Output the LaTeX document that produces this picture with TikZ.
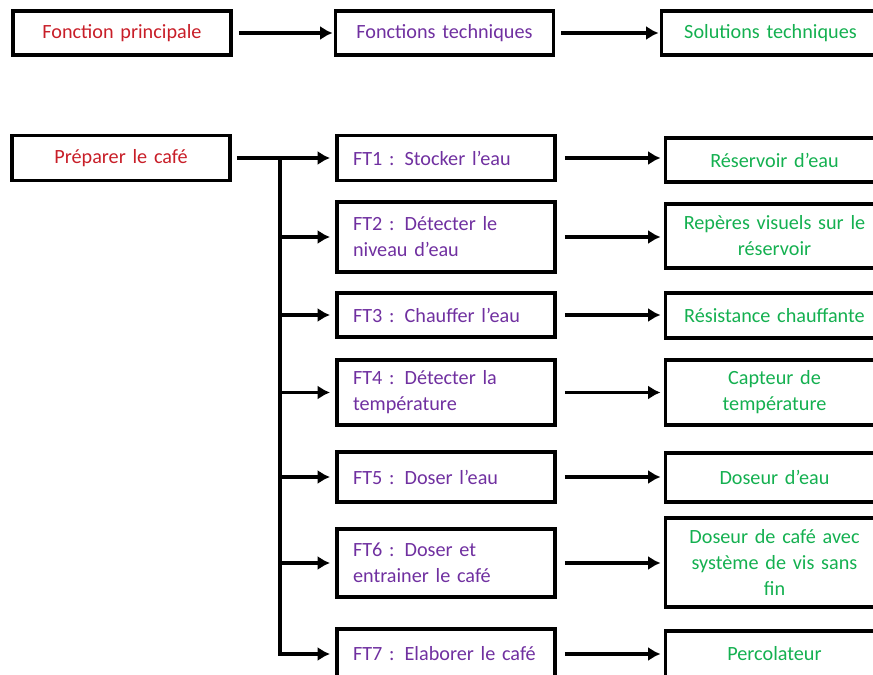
\documentclass[tikz,border=0pt]{standalone}
\usepackage{fontspec}
\setmainfont{Carlito}[WordSpace=0.75]
\usetikzlibrary{arrows.meta}
\definecolor{fprouge}{RGB}{200,30,40}
\definecolor{ftviolet}{RGB}{112,48,160}
\definecolor{stvert}{RGB}{20,176,80}
\tikzset{
	boite/.style={draw, line width=2.2pt, minimum width=4.36cm, text width=3.72cm, inner sep=0pt, outer sep=0pt, font=\fontsize{11.5}{14.8}\selectfont},
	fleche/.style={line width=2pt, -{Latex[length=7pt,width=8pt]}},
}
\begin{document}
\begin{tikzpicture}[x=0.02cm,y=-0.02cm]
			\useasboundingbox (0,0) rectangle (873,675);
			\clip (0,0) rectangle (873,675);
			% titres
			\node[boite, align=center, minimum height=0.88cm, text=fprouge] (fp) at (122,33) {Fonction principale};
			\node[boite, align=center, minimum height=0.88cm, text=ftviolet] (ftt) at (444.5,33) {Fonctions techniques};
			\node[boite, align=center, minimum height=0.88cm, text=stvert] (stt) at (770.5,33) {Solutions techniques};
			\draw[fleche, shorten <=0.16cm, shorten >=0.06cm] (fp.east) -- (ftt.west);
			\draw[fleche, shorten <=0.16cm, shorten >=0.06cm] (ftt.east) -- (stt.west);
			% fonction principale
			\node[boite, align=center, minimum height=0.9cm, text=fprouge] (pc) at (121,158) {Préparer le café};
			% fonctions techniques
			\node[boite, align=left, minimum height=0.9cm, text=ftviolet] (ft1) at (446,158) {FT1 : Stocker l’eau};
			\node[boite, align=left, minimum height=1.4cm, text=ftviolet] (ft2) at (446,237) {FT2 : Détecter le\\niveau d’eau};
			\node[boite, align=left, minimum height=0.88cm, text=ftviolet] (ft3) at (446,315) {FT3 : Chauffer l’eau};
			\node[boite, align=left, minimum height=1.3cm, text=ftviolet] (ft4) at (446,392.5) {FT4 : Détecter la\\température};
			\node[boite, align=left, minimum height=1.0cm, text=ftviolet] (ft5) at (446,477) {FT5 : Doser l’eau};
			\node[boite, align=left, minimum height=1.36cm, text=ftviolet] (ft6) at (446,563) {FT6 : Doser et\\entrainer le café};
			\node[boite, align=left, minimum height=1.0cm, text=ftviolet] (ft7) at (446,654) {FT7 : Elaborer le café};
			% solutions techniques
			\node[boite, align=center, minimum height=0.88cm, text=stvert] (st1) at (774.5,160) {Réservoir d’eau};
			\node[boite, align=center, minimum height=1.28cm, text=stvert] (st2) at (774.5,236) {Repères visuels sur le\\réservoir};
			\node[boite, align=center, minimum height=0.9cm, text=stvert] (st3) at (774.5,315.5) {Résistance chauffante};
			\node[boite, align=center, minimum height=1.3cm, text=stvert] (st4) at (774.5,392.5) {Capteur de\\température};
			\node[boite, align=center, minimum height=0.98cm, text=stvert] (st5) at (774.5,477.5) {Doseur d’eau};
			\node[boite, align=center, minimum height=1.78cm, text=stvert] (st6) at (774.5,562.5) {Doseur de café avec\\système de vis sans\\fin};
			\node[boite, align=center, minimum height=0.92cm, text=stvert] (st7) at (774.5,654) {Percolateur};
			% liaisons
			\coordinate (bus) at (280,158);
			\draw[fleche, shorten <=0.14cm, shorten >=0.14cm] (pc.east) -- (ft1.west);
			\draw[fleche, shorten >=0.14cm] (bus) |- (ft7.west);
			\foreach \n in {2,...,6}
				\draw[fleche, shorten >=0.14cm] (bus |- ft\n.west) -- (ft\n.west);
			\foreach \n in {1,...,7}
				\draw[fleche, shorten <=0.2cm, shorten >=0.1cm] (ft\n.east) -- (ft\n.east -| st\n.west);
\end{tikzpicture}
\end{document}
